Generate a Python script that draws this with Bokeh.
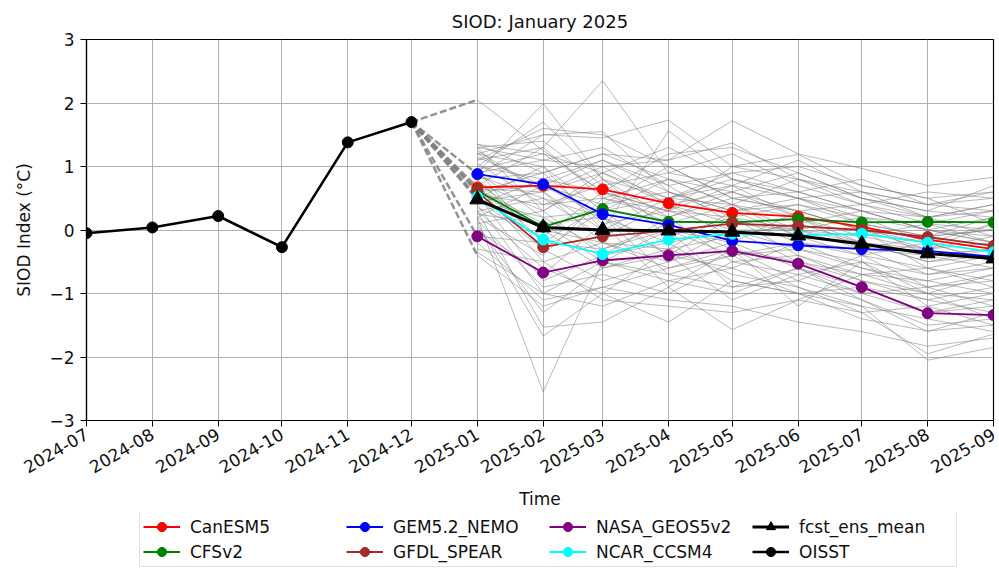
import math
import pandas as pd
from bokeh.plotting import figure
from bokeh.layouts import column
from bokeh.models import Range1d, FixedTicker, Legend, LegendItem
from bokeh.embed import file_html
from bokeh.resources import INLINE

# ---------------- data ----------------
obs_months = ["2024-07", "2024-08", "2024-09", "2024-10", "2024-11", "2024-12"]
oisst = [-0.05, 0.04, 0.22, -0.27, 1.38, 1.70]

fcst_months = ["2025-01", "2025-02", "2025-03", "2025-04", "2025-05",
               "2025-06", "2025-07", "2025-08", "2025-09"]

model_names = ["CanESM5", "CFSv2", "GEM5.2_NEMO", "GFDL_SPEAR", "NASA_GEOS5v2", "NCAR_CCSM4"]
canesm5 = [0.67, 0.70, 0.64, 0.42, 0.27, 0.21, 0.05, -0.15, -0.30]
cfsv2 = [0.62, 0.05, 0.33, 0.13, 0.12, 0.17, 0.12, 0.13, 0.12]
gem52_nemo = [0.88, 0.72, 0.25, 0.08, -0.17, -0.24, -0.30, -0.33, -0.42]
gfdl_spear = [0.60, -0.27, -0.10, -0.01, 0.10, 0.06, 0.00, -0.11, -0.25]
nasa_geos5v2 = [-0.10, -0.67, -0.48, -0.40, -0.33, -0.53, -0.90, -1.31, -1.34]
ncar_ccsm4 = [0.52, -0.15, -0.38, -0.15, -0.06, -0.08, -0.06, -0.20, -0.35]
fcst_ens_mean = [0.48, 0.04, 0.00, -0.01, -0.03, -0.09, -0.22, -0.37, -0.45]

# individual ensemble members (grey), Jan..Sep 2025
ens_members = [
    [2.05, 1.25, 0.60, 0.30, 0.20, 0.00, -0.20, -0.40, -0.30],
    [0.90, 1.99, 0.80, 0.50, 0.40, 0.20, 0.10, -0.10, 0.00],
    [1.10, 1.30, 2.35, 0.90, 0.70, 0.50, 0.30, 0.20, 0.30],
    [1.20, 1.50, 1.45, 1.73, 1.00, 0.80, 0.60, 0.40, 0.50],
    [1.30, 1.10, 1.00, 1.10, 1.72, 1.20, 0.97, 0.70, 0.83],
    [0.20, -2.55, -0.50, -0.70, -0.90, -0.80, -1.10, -1.50, -1.40],
    [0.10, -1.67, -1.00, -1.45, -0.80, -1.00, -1.20, -2.05, -1.85],
    [0.30, -1.53, -1.45, -0.90, -1.57, -1.10, -1.30, -1.95, -1.64],
    [-0.40, -1.20, -0.90, -1.10, -1.20, -1.45, -1.60, -1.83, -1.70],
    [-0.35, -1.00, -1.20, -0.80, -0.60, -1.00, -1.40, -1.59, -1.50],
    [1.35, 0.90, 1.20, 0.80, 0.60, 0.90, 0.50, 0.30, 0.20],
    [1.30, 1.40, 0.70, 0.90, 1.20, 0.70, 0.40, 0.60, 0.50],
    [1.25, 0.60, 0.90, 1.30, 0.80, 0.50, 0.60, 0.20, 0.40],
    [1.20, 1.00, 0.30, 0.50, 0.90, 1.00, 0.70, 0.50, 0.10],
    [1.15, 0.70, 1.10, 0.60, 0.30, 0.40, 0.20, 0.00, -0.20],
    [1.10, 1.60, 1.50, 1.00, 0.50, 0.60, 0.80, 0.40, 0.60],
    [1.05, 0.40, 0.50, 0.20, 0.60, 0.30, 0.00, -0.30, -0.10],
    [1.00, 0.80, 0.60, 1.20, 1.30, 0.90, 0.50, 0.30, 0.70],
    [0.95, 1.20, 0.90, 0.40, 0.10, 0.20, -0.10, 0.10, 0.30],
    [0.90, 0.20, -0.30, 0.10, 0.40, 0.00, 0.20, -0.20, -0.50],
    [0.90, 1.10, 1.30, 0.70, 0.90, 0.60, 0.30, 0.00, 0.20],
    [0.85, 0.50, 0.20, -0.20, 0.00, -0.30, -0.50, -0.70, -0.60],
    [0.80, -0.20, 0.40, 0.60, 0.20, 0.40, 0.10, -0.40, -0.30],
    [0.80, 0.90, 0.10, 0.30, 0.70, 0.20, -0.30, -0.10, 0.00],
    [0.75, 0.30, 0.80, 0.00, -0.40, -0.20, -0.60, -0.90, -0.80],
    [0.70, 1.30, 0.50, 0.80, 0.40, 0.80, 0.40, 0.20, -0.10],
    [0.70, -0.50, -0.20, -0.60, -0.30, -0.50, -0.80, -1.00, -1.10],
    [0.65, 0.60, 1.00, 0.40, -0.10, 0.10, -0.20, -0.50, -0.40],
    [0.60, 0.00, -0.60, -0.30, 0.30, -0.10, -0.40, -0.60, -0.90],
    [0.60, 0.70, 0.40, 1.00, 0.50, 0.30, 0.00, -0.20, 0.10],
    [0.55, -0.80, -0.40, 0.20, -0.50, -0.70, -0.50, -1.20, -1.00],
    [0.55, 0.40, 0.70, -0.10, 0.20, -0.40, -0.70, -0.80, -0.60],
    [0.50, 1.00, 0.00, 0.50, 0.80, 0.50, 0.20, 0.10, -0.20],
    [0.50, -0.30, -0.80, -0.50, -0.20, -0.60, -1.00, -1.30, -1.20],
    [0.45, 0.20, 0.30, -0.40, -0.60, -0.20, -0.30, -0.70, -0.50],
    [0.40, 0.80, 1.10, 0.70, 0.10, 0.00, -0.10, -0.30, -0.20],
    [0.40, -1.00, -0.50, -0.80, -1.00, -0.60, -0.90, -1.10, -1.30],
    [0.35, -0.10, 0.60, 0.10, -0.30, -0.80, -0.40, -0.90, -0.70],
    [0.30, 0.50, -0.10, 0.40, 0.60, 0.20, -0.20, -0.50, -0.30],
    [0.30, -0.60, -1.00, -0.30, -0.70, -0.90, -1.20, -1.40, -1.60],
    [0.25, 0.10, 0.20, -0.70, -0.40, -0.30, -0.60, -0.80, -1.00],
    [0.20, -0.40, 0.50, 0.30, 0.00, -0.50, -0.70, -0.60, -0.80],
    [0.15, -0.90, -0.70, -1.00, -0.50, -0.40, -0.80, -1.10, -0.90],
    [0.10, 0.30, -0.40, -0.20, -0.80, -1.00, -0.90, -1.30, -1.10],
    [0.05, -1.30, -0.60, -0.40, -1.10, -0.70, -1.00, -0.90, -1.20],
    [0.00, -0.70, 0.10, -0.90, -0.30, -1.20, -0.50, -1.00, -0.70],
    [-0.10, -0.20, -0.30, 0.00, -0.90, -0.60, -1.10, -1.60, -1.30],
    [-0.20, -1.10, -0.90, -0.60, -0.40, -0.90, -1.30, -1.20, -1.50],
    [-0.30, -0.50, -1.10, -1.20, -1.30, -1.10, -0.70, -1.00, -1.40],
    [1.30, 0.30, 0.90, 0.50, 0.70, 1.10, 0.60, 0.40, 0.30],
    [1.00, 1.70, 0.80, 0.20, 0.50, 0.30, 0.40, 0.10, 0.00],
    [0.85, 1.50, 1.55, 0.60, 0.30, 0.50, 0.10, -0.10, 0.20],
    [1.20, 0.60, 0.00, 1.56, 0.80, 0.60, 0.30, 0.00, -0.20],
    [0.60, 0.90, 1.20, 1.10, 1.37, 0.80, 0.50, 0.20, 0.40],
    [1.35, 1.20, 0.60, 0.30, 1.00, 1.19, 0.70, 0.50, 0.60],
    [0.75, 0.00, -0.20, -0.30, -0.10, 0.10, 0.30, 0.00, -0.10],
    [0.45, 0.60, -0.20, -0.50, 0.00, 0.00, -0.30, -0.40, -0.60],
    [0.95, -0.30, 0.30, 0.80, 0.40, -0.10, -0.20, -0.30, 0.10],
    [0.65, 0.10, -0.50, 0.00, -0.20, 0.30, 0.00, -0.60, -0.40],
    [0.20, 0.70, 0.20, -0.40, 0.20, -0.20, -0.40, -0.20, -0.50],
]

tick_labels = ["2024-07", "2024-08", "2024-09", "2024-10", "2024-11", "2024-12",
               "2025-01", "2025-02", "2025-03", "2025-04", "2025-05", "2025-06",
               "2025-07", "2025-08", "2025-09"]
y_ticks = [-3, -2, -1, 0, 1, 2, 3]

# ---------------- figure ----------------
FONT = "DejaVu Sans"
obs_x = pd.to_datetime(obs_months)
fc_x = pd.to_datetime(fcst_months)
tick_dt = pd.to_datetime(tick_labels)
tick_ms = [float(t.value // 10**6) for t in tick_dt]

p = figure(width=999, height=512, output_backend="svg", toolbar_location=None,
           x_axis_type="datetime", title="SIOD: January 2025",
           x_range=Range1d(tick_dt[0], tick_dt[-1]), y_range=Range1d(-3, 3),
           min_border_left=86, min_border_top=39, min_border_right=6, min_border_bottom=92)
p.background_fill_color = "white"
p.border_fill_color = "white"
p.outline_line_color = "black"
p.outline_line_width = 1.2

p.title.align = "center"
p.title.text_font = FONT
p.title.text_font_size = "18px"
p.title.text_font_style = "normal"
p.title.text_color = "#111111"
p.title.standoff = 16

p.xaxis.ticker = FixedTicker(ticks=tick_ms)
p.xaxis.major_label_overrides = {tm: lab for tm, lab in zip(tick_ms, tick_labels)}
p.xaxis.major_label_orientation = math.pi / 6
p.yaxis.ticker = FixedTicker(ticks=y_ticks)
p.yaxis.major_label_overrides = {v: (("\u2212" + str(-v)) if v < 0 else str(v)) for v in y_ticks}

for ax in (p.xaxis, p.yaxis):
    ax.axis_line_color = "black"
    ax.axis_line_width = 1.2
    ax.major_tick_line_color = "black"
    ax.major_tick_out = 6
    ax.major_tick_in = 0
    ax.minor_tick_out = 0
    ax.minor_tick_in = 0
    ax.major_label_text_font = FONT
    ax.major_label_text_font_size = "17px"
    ax.major_label_text_color = "#111111"
    ax.axis_label_text_font = FONT
    ax.axis_label_text_font_size = "17px"
    ax.axis_label_text_font_style = "normal"
    ax.axis_label_text_color = "#111111"
    ax.major_label_standoff = 6

p.xaxis.axis_label = "Time"
p.yaxis.axis_label = "SIOD Index (\u00b0C)"
p.xaxis.axis_label_standoff = 7
p.yaxis.axis_label_standoff = 12

p.grid.grid_line_color = "#b0b0b0"
p.grid.grid_line_width = 1

# grey ensemble members
p.multi_line(xs=[list(fc_x)] * len(ens_members), ys=ens_members,
             line_color="grey", line_alpha=0.55, line_width=1)

# dashed connectors from last observation to first forecast values
models_data = [canesm5, cfsv2, gem52_nemo, gfdl_spear, nasa_geos5v2, ncar_ccsm4]
first_vals = [max(m[0] for m in ens_members), min(m[0] for m in ens_members)]
first_vals += [m[0] for m in models_data] + [fcst_ens_mean[0]]
p.multi_line(xs=[[obs_x[-1], fc_x[0]]] * len(first_vals),
             ys=[[oisst[-1], v] for v in first_vals],
             line_color="grey", line_width=2.5, line_dash="7 3", line_alpha=0.85)

model_colors = ["red", "green", "blue", "brown", "purple", "cyan"]
series = []
for name, vals, col in zip(model_names, models_data, model_colors):
    p.line(fc_x, vals, line_color=col, line_width=1.8)
    p.scatter(fc_x, vals, marker="circle", size=11, fill_color=col, line_color=col)
    series.append((name, fc_x, vals, col, "circle", 1.8))

p.line(fc_x, fcst_ens_mean, line_color="black", line_width=3)
p.scatter(fc_x, fcst_ens_mean, marker="triangle", size=15, fill_color="black", line_color="black")
series.append(("fcst_ens_mean", fc_x, fcst_ens_mean, "black", "triangle", 3))

p.line(obs_x, oisst, line_color="black", line_width=2.6)
p.scatter(obs_x, oisst, marker="circle", size=11, fill_color="black", line_color="black")
series.append(("OISST", obs_x, oisst, "black", "circle", 2.6))

# ---------------- legend strip below the plot ----------------
# same series drawn here only as legend sources; this strip's ranges keep them out of view
pl = figure(width=999, height=56, output_backend="svg", toolbar_location=None,
            x_range=Range1d(0, 1), y_range=Range1d(0, 1),
            min_border_left=0, min_border_right=0, min_border_top=0, min_border_bottom=0)
pl.axis.visible = False
pl.grid.visible = False
pl.outline_line_color = None
pl.background_fill_color = "white"
pl.border_fill_color = "white"

items = []
for name, xs, ys, col, mk, lw in series:
    lr = pl.line(xs, ys, line_color=col, line_width=lw)
    sr = pl.scatter(xs, ys, marker=mk, fill_color=col, line_color=col)
    items.append(LegendItem(label=name, renderers=[lr, sr]))

legend = Legend(items=items, location=(53, 1), orientation="vertical", nrows=2,
                label_text_font=FONT, label_text_font_size="17px", label_text_color="#111111",
                glyph_width=37, glyph_height=23, label_standoff=10, label_width=154,
                spacing=2, padding=3, margin=0,
                border_line_color="#c4c4c4", border_line_width=1.5,
                background_fill_color="white", background_fill_alpha=1)
pl.add_layout(legend, "center")

layout = column(p, pl, spacing=0)
open("out.html", "w").write(file_html(layout, INLINE))
